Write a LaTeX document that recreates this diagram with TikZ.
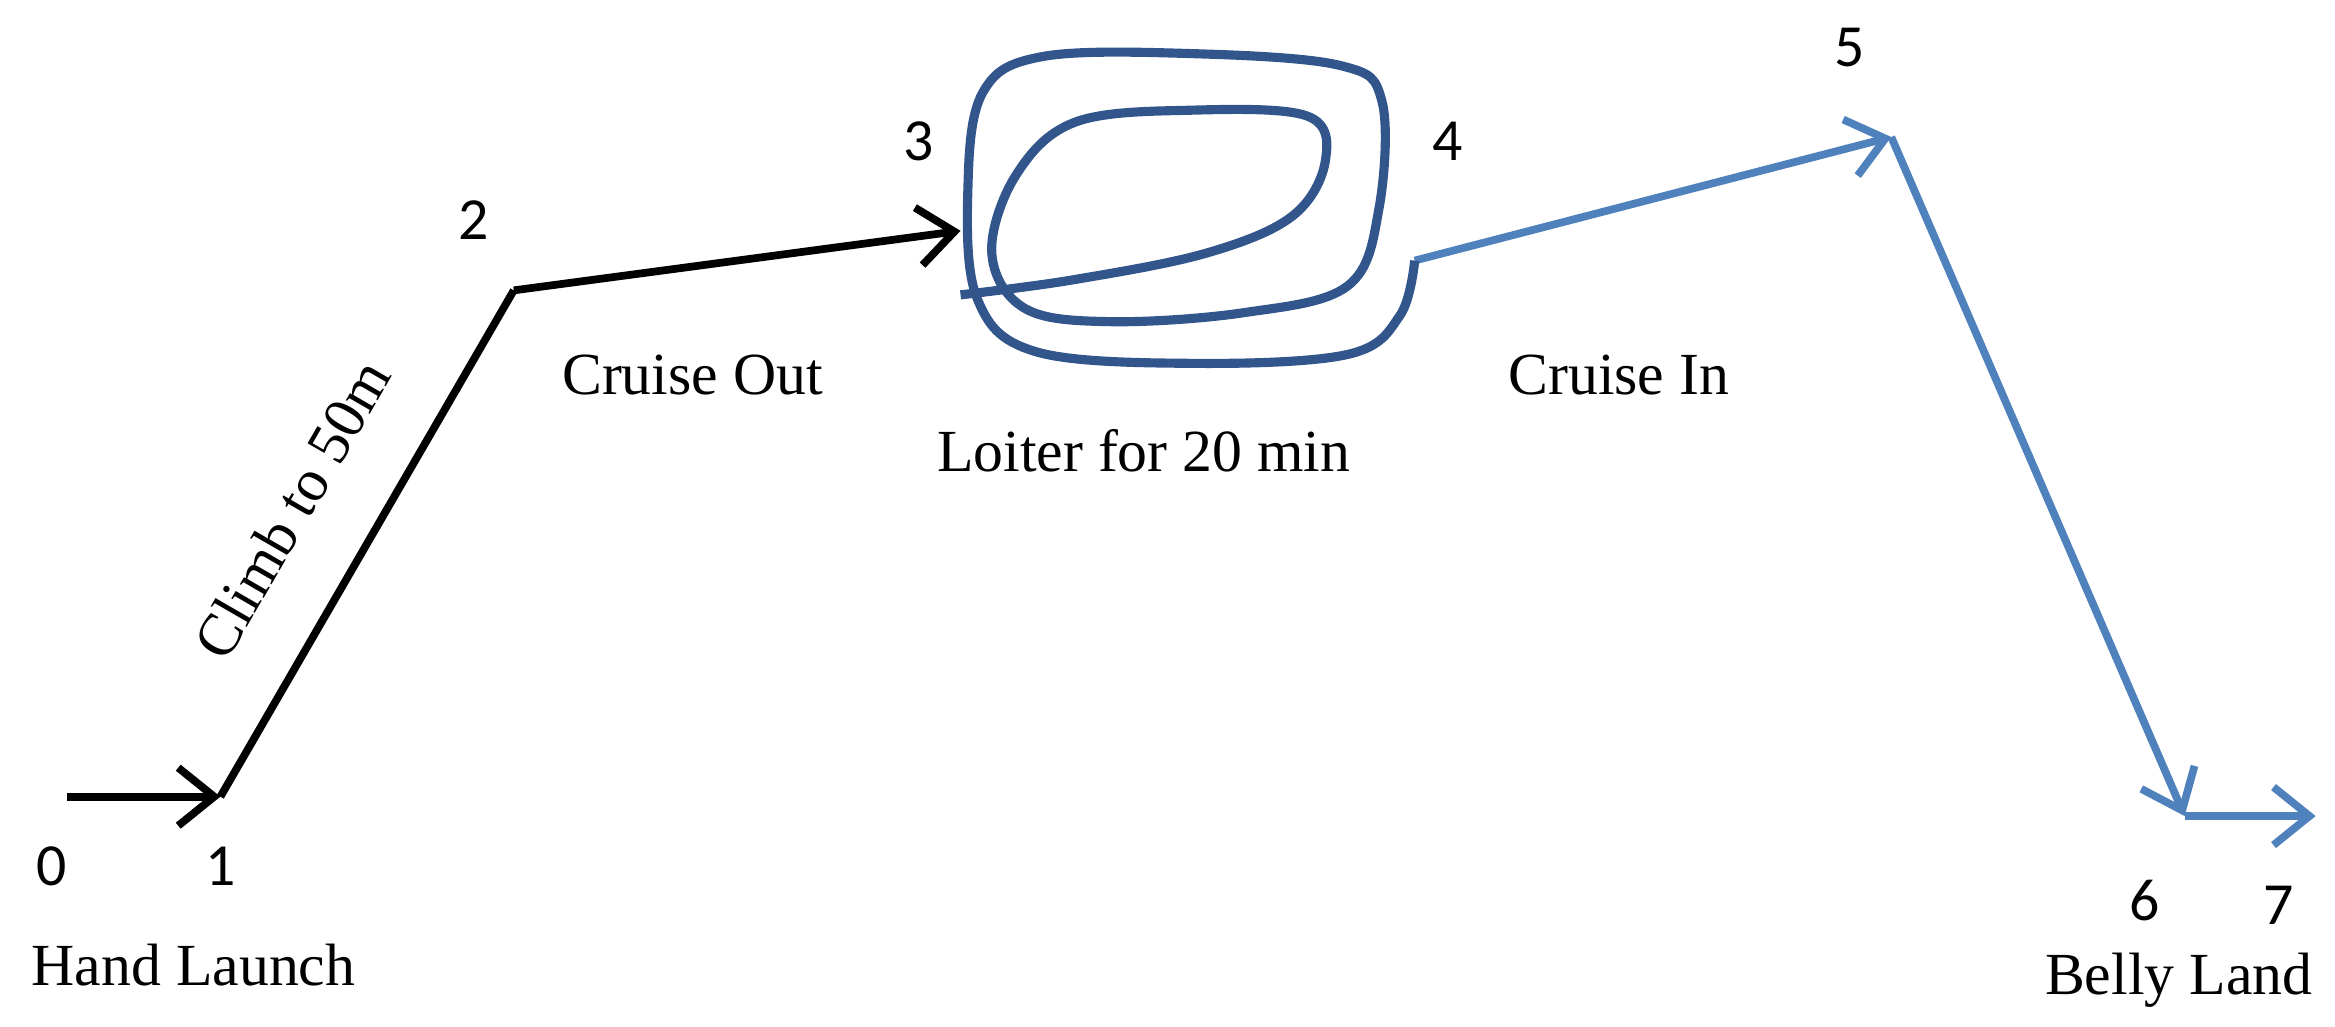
\documentclass[tikz,border=0pt]{standalone}
\usepackage{fontspec}
\setmainfont{Liberation Serif}
\newfontfamily\numfont{Carlito}
\usetikzlibrary{arrows.meta,positioning}
\definecolor{legblue}{RGB}{79,129,189}
\definecolor{loopblue}{RGB}{50,85,140}
\tikzset{
  leg/.style={line width=2.2pt, -{Straight Barb[length=3.6mm,width=5.8mm,line width=2.2pt]}},
  num/.style={font=\numfont\fontsize{17}{20}\selectfont},
  lbl/.style={font=\fontsize{17}{20}\selectfont}
}
\begin{document}
\begin{tikzpicture}[x=0.01489cm,y=-0.01489cm]
\useasboundingbox (0,0) rectangle (1568,689);

% way points
\coordinate (p0) at (45,535);
\coordinate (p1) at (148,535);
\coordinate (p2) at (345,195);
\coordinate (p3) at (645,155);
\coordinate (p4) at (950,175);
\coordinate (p5) at (1270,92);
\coordinate (p6) at (1467,548);
\coordinate (p7) at (1555,548);

\draw[leg] (p0) -- (p1);
\draw[line width=2.2pt] (p1) -- (p2);
\draw[leg] (p2) -- (p3);
\draw[leg, legblue] (p4) -- (p5);
\draw[leg, legblue] (p5) -- (p6);
\draw[leg, legblue] (p6) -- (p7);

% loiter loop
\draw[loopblue, line width=2.6pt] plot[smooth, tension=0.6] coordinates {
  (645,198) (720,188) (810,170) (868,145) (890,108) (878,78) (800,74) (722,82)
  (682,118) (666,170) (688,207) (745,216) (835,210) (905,192) (926,140)
  (928,68) (900,44) (800,36) (700,38) (660,62) (650,125) (656,200)
  (695,236) (800,244) (905,238) (940,212) (950,175)};

% numbers
\node[num] (n0) at (35,582) {0};
\node[num] (n1) at (148,582) {1};
\node[num] (n2) at (318,148) {2};
\node[num] (n3) at (617,95) {3};
\node[num] (n4) at (972,95) {4};
\node[num] (n5) at (1242,32) {5};
\node[num] (n6) at (1440,605) {6};
\node[num] (n7) at (1530,608) {7};

% phase labels
\node[lbl] (launch) at (130,648) {Hand Launch};
\node[lbl, rotate=60] (climb) at (196,342) {Climb to 50m};
\node[lbl] (cruiseout) at (465,252) {Cruise Out};
\node[lbl] (loiter) at (768,303) {Loiter for 20 min};
\node[lbl] (cruisein) at (1087,252) {Cruise In};
\node[lbl] (land) at (1463,658) {Belly Land};
\end{tikzpicture}
\end{document}
